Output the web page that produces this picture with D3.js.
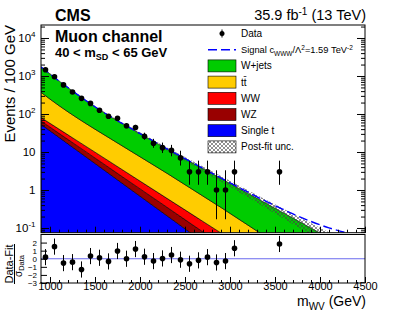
<!DOCTYPE html>
<html>
<head>
<meta charset="utf-8">
<script src="https://cdn.jsdelivr.net/npm/d3@7"></script>
<style>
  body { margin: 0; background: #fff; }
  text { font-family: "Liberation Sans", Arial, sans-serif; fill: #000; }
</style>
</head>
<body>
<div id="chart"></div>
<script>
const massPts   = [900, 1100, 1300, 1500, 1700, 1900, 2100, 2300, 2500, 2700, 2900, 3100, 3300, 3500, 3700, 3900, 4100, 4300, 4500];
const singleTop = [53.6, 24.3, 11.0, 4.99, 2.26, 1.02, 0.463, 0.210, 0.0953, 0.0432, 0.0195, 0.0089, 0.0040, 0.0018, 0.00083, 0.00038, 0.00017, 0.00008, 0.000035];
const wz        = [12.0, 6.7, 3.7, 1.98, 1.04, 0.54, 0.277, 0.141, 0.071, 0.0355, 0.0177, 0.0087, 0.0043, 0.0021, 0.0010, 0.0005, 0.00025, 0.00012, 0.00006];
const ww        = [15.1, 9.1, 5.2, 2.94, 1.62, 0.88, 0.473, 0.252, 0.134, 0.070, 0.0368, 0.0191, 0.0099, 0.0051, 0.0026, 0.0013, 0.0007, 0.00035, 0.00018];
const ttbar     = [291, 126, 59.5, 29.9, 15.5, 8.03, 4.16, 2.15, 1.08, 0.543, 0.273, 0.133, 0.065, 0.0317, 0.0155, 0.0076, 0.0037, 0.0018, 0.0009];
const wjets     = [1355, 575, 252, 115, 57.2, 31.2, 17.0, 9.25, 5.23, 2.94, 1.65, 0.926, 0.52, 0.29, 0.162, 0.090, 0.050, 0.028, 0.0154];
const signal    = [0.40, 0.32, 0.26, 0.21, 0.17, 0.14, 0.12, 0.10, 0.09, 0.08, 0.072, 0.066, 0.06, 0.056, 0.052, 0.049, 0.046, 0.044, 0.042];
const uncFrac   = [0.04, 0.04, 0.05, 0.05, 0.06, 0.07, 0.08, 0.10, 0.12, 0.14, 0.17, 0.20, 0.23, 0.27, 0.31, 0.35, 0.40, 0.45, 0.50];

// data
const binCenters = [950, 1050, 1150, 1250, 1350, 1450, 1550, 1650, 1750, 1850, 1950, 2050, 2150, 2250, 2350, 2450, 2550, 2650, 2750, 2850, 2950, 3050, 3550];
const dataCounts = [1462, 952, 583, 380, 258, 190, 126, 87, 77, 49, 44, 26, 17, 13, 11, 7, 3, 3, 3, 1, 1, 3, 3];
const errLo = [38.2, 30.4, 23.6, 19.0, 15.6, 13.3, 10.7, 9.0, 8.5, 6.8, 6.6, 5.1, 4.1, 3.6, 3.3, 2.6, 1.63, 1.63, 1.63, 0.83, 0.83, 1.63, 1.63];
const errHi = [39.2, 31.4, 25.1, 20.5, 17.1, 14.8, 12.2, 10.4, 9.8, 8.1, 7.7, 6.2, 5.2, 4.7, 4.4, 3.8, 2.92, 2.92, 2.92, 2.30, 2.30, 2.92, 2.92];
const pulls = [0.2, 1.5, -0.54, -0.42, -1.33, 0.33, 0.12, -0.33, 0.96, 0.0, 1.2, 0.25, -0.29, 0.04, 0.46, -0.12, -0.62, -0.2, 0.2, -0.46, -0.29, 1.3, 1.83];

// ticks
const xTicks = [1000, 1500, 2000, 2500, 3000, 3500, 4000, 4500];
const yExp = [-1, 0, 1, 2, 3, 4];
const pullTicks = [-3, -2, -1, 0, 1, 2];

const W = 407, H = 313;
const fr = {left: 41, right: 365, top: 25, bottom: 232.7};
const pr = {top: 234.5, bottom: 283};

const svg = d3.select("#chart").append("svg")
    .attr("width", W).attr("height", H);

const defs = svg.append("defs");
defs.append("clipPath").attr("id", "clipMain")
  .append("rect").attr("x", fr.left).attr("y", fr.top)
    .attr("width", fr.right - fr.left).attr("height", fr.bottom - fr.top);
const hatch = defs.append("pattern").attr("id", "hatch")
    .attr("width", 4).attr("height", 4).attr("patternUnits", "userSpaceOnUse");
hatch.append("path").attr("d", "M0,0L4,4M4,0L0,4M-1,3L1,5M3,-1L5,1")
    .attr("stroke", "#444").attr("stroke-width", 0.6);

const x = d3.scaleLinear().domain([900, 4500]).range([fr.left, fr.right]);
const y = d3.scaleLog().domain([0.0752, 21980]).range([fr.bottom, fr.top]);
const yp = d3.scaleLinear().domain([-3, 3]).range([pr.bottom, pr.top]);

// stack
const keys = ["singleTop", "wz", "ww", "ttbar", "wjets"];
const colors = {singleTop: "#0000ff", wz: "#990000", ww: "#ff0000", ttbar: "#ffcc00", wjets: "#00cc00"};
const table = massPts.map((m, i) => ({
  m: m, singleTop: singleTop[i], wz: wz[i], ww: ww[i], ttbar: ttbar[i], wjets: wjets[i]
}));
const series = d3.stack().keys(keys)(table);

const area = d3.area()
    .x(d => x(d.data.m))
    .y0(d => y(Math.max(d[0], 1e-5)))
    .y1(d => y(Math.max(d[1], 1e-5)))
    .curve(d3.curveMonotoneX);

const main = svg.append("g").attr("clip-path", "url(#clipMain)");

main.selectAll("path.stack")
  .data(series)
  .join("path")
    .attr("class", "stack")
    .attr("d", area)
    .attr("fill", d => colors[d.key])
    .attr("stroke", "#000")
    .attr("stroke-width", 0.6);

// uncertainty band and signal
const total = massPts.map((m, i) => singleTop[i] + wz[i] + ww[i] + ttbar[i] + wjets[i]);
main.append("path")
  .datum(massPts.map((m, i) => ({m: m, lo: total[i] * (1 - uncFrac[i]), hi: total[i] * (1 + uncFrac[i])})))
  .attr("d", d3.area().x(d => x(d.m)).y0(d => y(d.lo)).y1(d => y(d.hi)).curve(d3.curveMonotoneX))
  .attr("fill", "url(#hatch)");

main.append("path")
  .datum(massPts.map((m, i) => ({m: m, v: total[i] + signal[i]})))
  .attr("d", d3.line().x(d => x(d.m)).y(d => y(d.v)).curve(d3.curveMonotoneX))
  .attr("fill", "none")
  .attr("stroke", "#0000ff")
  .attr("stroke-width", 1.4)
  .attr("stroke-dasharray", "9,4");

// data points
const pts = binCenters.map((m, i) => ({m: m, v: dataCounts[i], lo: dataCounts[i] - errLo[i], hi: dataCounts[i] + errHi[i], p: pulls[i]}));
main.selectAll("line.err")
  .data(pts)
  .join("line")
    .attr("x1", d => x(d.m)).attr("x2", d => x(d.m))
    .attr("y1", d => y(d.lo)).attr("y2", d => y(d.hi))
    .attr("stroke", "#000").attr("stroke-width", 1);
main.selectAll("circle.dat")
  .data(pts)
  .join("circle")
    .attr("cx", d => x(d.m)).attr("cy", d => y(d.v)).attr("r", 2.8)
    .attr("fill", "#000");

// main axes
svg.append("g")
  .attr("transform", `translate(0,${fr.bottom})`)
  .call(d3.axisBottom(x).tickValues(d3.range(900, 4501, 100)).tickSize(-3).tickFormat(""))
  .call(g => g.select(".domain").remove());
svg.append("g")
  .attr("transform", `translate(0,${fr.bottom})`)
  .call(d3.axisBottom(x).tickValues(xTicks).tickSize(-6).tickFormat(""))
  .call(g => g.select(".domain").remove());

const yMinor = [];
for (let e = -2; e <= 4; e++) for (let j = 2; j <= 9; j++) {
  const v = j * Math.pow(10, e);
  if (v > 0.0752 && v < 21980) yMinor.push(v);
}
const yMajor = yExp.map(e => Math.pow(10, e));
[[d3.axisLeft, fr.left], [d3.axisRight, fr.right]].forEach(([ax, px]) => {
  svg.append("g").attr("transform", `translate(${px},0)`)
    .call(ax(y).tickValues(yMinor).tickSize(-4).tickFormat(""))
    .call(g => g.select(".domain").remove());
  svg.append("g").attr("transform", `translate(${px},0)`)
    .call(ax(y).tickValues(yMajor).tickSize(-8).tickFormat(""))
    .call(g => g.select(".domain").remove());
});

// y tick labels with exponents
yExp.forEach(e => {
  const t = svg.append("text")
    .attr("x", 35.5).attr("y", y(Math.pow(10, e)) + 4)
    .attr("text-anchor", "end").attr("font-size", 11.5);
  if (e === 0) t.text("1");
  else if (e === 1) t.text("10");
  else {
    t.append("tspan").text("10");
    t.append("tspan").attr("dy", -5).attr("font-size", 8).text(e);
  }
});

svg.append("rect")
  .attr("x", fr.left).attr("y", fr.top)
  .attr("width", fr.right - fr.left).attr("height", fr.bottom - fr.top)
  .attr("fill", "none").attr("stroke", "#000").attr("stroke-width", 1);

// pull panel
svg.append("line")
  .attr("x1", fr.left).attr("x2", fr.right)
  .attr("y1", yp(0)).attr("y2", yp(0))
  .attr("stroke", "#6a6aee").attr("stroke-width", 1);

const pull = svg.append("g");
pull.selectAll("line")
  .data(pts)
  .join("line")
    .attr("x1", d => x(d.m)).attr("x2", d => x(d.m))
    .attr("y1", d => yp(d.p - 1)).attr("y2", d => yp(d.p + 1))
    .attr("stroke", "#000").attr("stroke-width", 1);
pull.selectAll("circle")
  .data(pts)
  .join("circle")
    .attr("cx", d => x(d.m)).attr("cy", d => yp(d.p)).attr("r", 2.8)
    .attr("fill", "#000");

svg.append("g")
  .attr("transform", `translate(0,${pr.bottom})`)
  .call(d3.axisBottom(x).tickValues(d3.range(1000, 4501, 100)).tickSize(-3).tickFormat(""))
  .call(g => g.select(".domain").remove());
svg.append("g")
  .attr("transform", `translate(0,${pr.bottom})`)
  .call(d3.axisBottom(x).tickValues(xTicks).tickSize(-6).tickPadding(-1).tickFormat(d3.format("d")))
  .call(g => g.select(".domain").remove())
  .selectAll("text")
    .attr("font-size", 11)
    .attr("font-family", "Liberation Sans, Arial, sans-serif")
    .attr("fill", "#000");

svg.append("g")
  .attr("transform", `translate(${fr.left},0)`)
  .call(d3.axisLeft(yp).tickValues(pullTicks).tickSize(-6).tickPadding(4).tickFormat(d3.format("d")))
  .call(g => g.select(".domain").remove())
  .selectAll("text")
    .attr("font-size", 8)
    .attr("font-family", "Liberation Sans, Arial, sans-serif")
    .attr("fill", "#000");

svg.append("rect")
  .attr("x", fr.left).attr("y", pr.top)
  .attr("width", fr.right - fr.left).attr("height", pr.bottom - pr.top)
  .attr("fill", "none").attr("stroke", "#000").attr("stroke-width", 1);

svg.selectAll(".tick line").attr("stroke", "#000");

// titles
svg.append("text").attr("x", 55).attr("y", 21)
  .attr("font-size", 16).attr("font-weight", "bold").text("CMS");
const lumi = svg.append("text").attr("x", 366).attr("y", 20)
  .attr("text-anchor", "end").attr("font-size", 14.5);
lumi.append("tspan").text("35.9 fb");
lumi.append("tspan").attr("dy", -5).attr("font-size", 10).text("-1");
lumi.append("tspan").attr("dy", 5).text(" (13 TeV)");

svg.append("text").attr("x", 55).attr("y", 41.5)
  .attr("font-size", 16).attr("font-weight", "bold").text("Muon channel");
const cut = svg.append("text").attr("x", 55).attr("y", 57)
  .attr("font-size", 13).attr("font-weight", "bold");
cut.append("tspan").text("40 < m");
cut.append("tspan").attr("dy", 3).attr("font-size", 9).text("SD");
cut.append("tspan").attr("dy", -3).text(" < 65 GeV");

svg.append("text")
  .attr("transform", `translate(15,${fr.top}) rotate(-90)`)
  .attr("text-anchor", "end").attr("font-size", 15)
  .text("Events / 100 GeV");

const xt = svg.append("text").attr("x", 366).attr("y", 306)
  .attr("text-anchor", "end").attr("font-size", 14);
xt.append("tspan").text("m");
xt.append("tspan").attr("dy", 3.5).attr("font-size", 10).text("WV");
xt.append("tspan").attr("dy", -3.5).text(" (GeV)");

// pull title as fraction
svg.append("text")
  .attr("transform", "translate(13,264) rotate(-90)")
  .attr("text-anchor", "middle").attr("font-size", 11)
  .text("Data-Fit");
svg.append("line")
  .attr("x1", 14.5).attr("x2", 14.5).attr("y1", 244).attr("y2", 284)
  .attr("stroke", "#000").attr("stroke-width", 1);
const sig = svg.append("text")
  .attr("transform", "translate(21.5,266) rotate(-90)")
  .attr("text-anchor", "middle").attr("font-size", 10);
sig.append("tspan").text("σ");
sig.append("tspan").attr("dy", 2.5).attr("font-size", 7.5).text("Data");

// legend
const legY = i => 33.5 + i * 16.2;
const lg = svg.append("g");
lg.append("line").attr("x1", 222).attr("x2", 222).attr("y1", legY(0) - 4).attr("y2", legY(0) + 4)
  .attr("stroke", "#000");
lg.append("circle").attr("cx", 222).attr("cy", legY(0)).attr("r", 2.5).attr("fill", "#000");
lg.append("line").attr("x1", 208).attr("x2", 236).attr("y1", legY(1)).attr("y2", legY(1))
  .attr("stroke", "#0000ff").attr("stroke-width", 1.4).attr("stroke-dasharray", "9,4");
const boxes = [["wjets", "W+jets"], ["ttbar", "tt\u0304"], ["ww", "WW"], ["wz", "WZ"], ["singleTop", "Single t"]];
boxes.forEach(([k, lab], i) => {
  lg.append("rect").attr("x", 208).attr("y", legY(i + 2) - 6).attr("width", 28).attr("height", 12)
    .attr("fill", colors[k]).attr("stroke", "#000").attr("stroke-width", 0.6);
  lg.append("text").attr("x", 241).attr("y", legY(i + 2) + 3.5).attr("font-size", 10).text(lab);
});
lg.append("rect").attr("x", 208).attr("y", legY(7) - 6).attr("width", 28).attr("height", 12)
  .attr("fill", "url(#hatch)").attr("stroke", "#000").attr("stroke-width", 0.6);
lg.append("text").attr("x", 241).attr("y", legY(7) + 3.5).attr("font-size", 10).text("Post-fit unc.");
lg.append("text").attr("x", 241).attr("y", legY(0) + 3.5).attr("font-size", 10).text("Data");
const sl = lg.append("text").attr("x", 241).attr("y", legY(1) + 3.5).attr("font-size", 9.3);
sl.append("tspan").text("Signal c");
sl.append("tspan").attr("dy", 2.5).attr("font-size", 6.5).text("WWW");
sl.append("tspan").attr("dy", -2.5).text("/Λ");
sl.append("tspan").attr("dy", -3.5).attr("font-size", 6.5).text("2");
sl.append("tspan").attr("dy", 3.5).text("=1.59 TeV");
sl.append("tspan").attr("dy", -3.5).attr("font-size", 6.5).text("-2");
</script>
</body>
</html>
